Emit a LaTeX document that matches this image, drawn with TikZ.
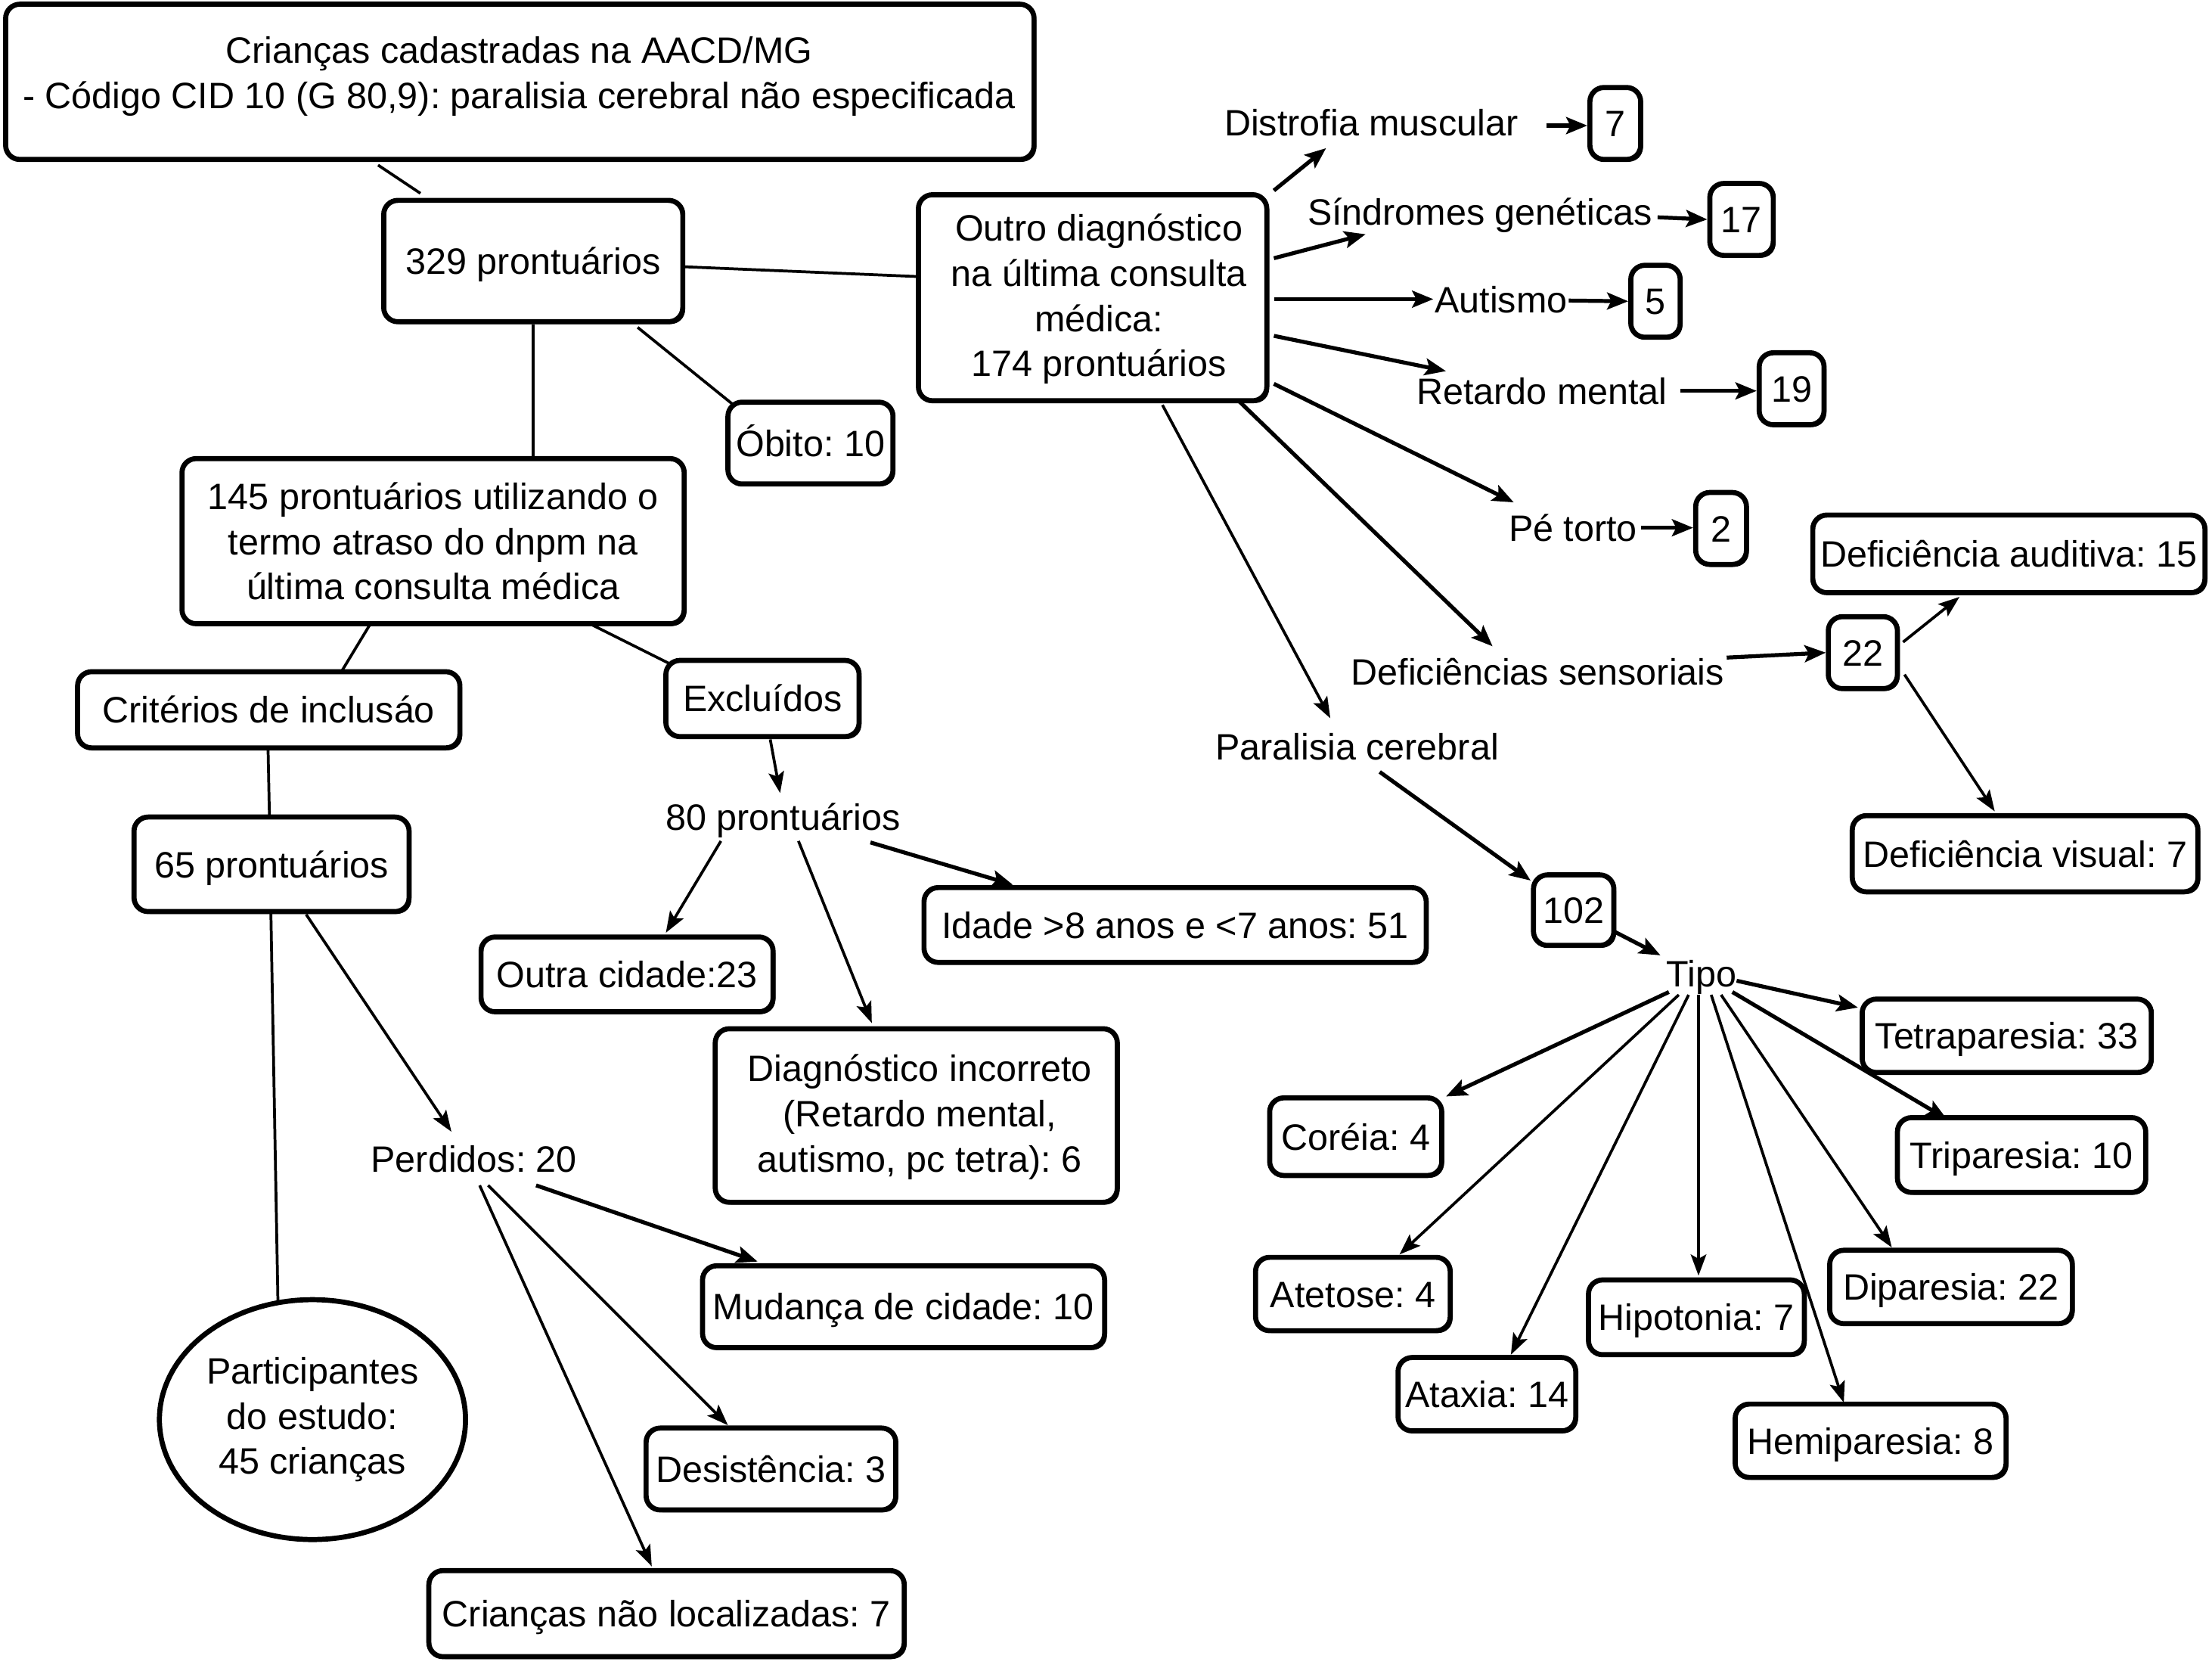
\documentclass[tikz,border=0pt]{standalone}
\usepackage{fontspec}
\setmainfont{Liberation Sans}
\usetikzlibrary{arrows.meta,calc,shadows,shapes.geometric}
\frenchspacing
\begin{document}
\begin{tikzpicture}[x=0.5pt,y=-0.5pt,
 every node/.style={font=\fontsize{13}{16}\selectfont, inner sep=0pt},
 bx/.style={draw, fill=white, rounded corners=5pt, line width=1.8pt, align=center,
   drop shadow={shadow xshift=0.8pt, shadow yshift=-0.8pt, opacity=1, fill=black}},
 sl/.style={text height=11pt, text depth=1.6pt},
 bxs/.style={bx, sl},
 lbl/.style={align=center, sl},
 ln/.style={line width=1pt},
 arr/.style={line width=1pt, -{Stealth[length=7.5pt,width=5.5pt,inset=1.5pt]}},
 tarr/.style={line width=1.4pt, -{Stealth[length=7.5pt,width=6pt,inset=1.5pt]}},
]
\useasboundingbox[fill=white] (0,0) rectangle (1568,1181.5);

% ---------- left part ----------
\node[bx, minimum width=364.5pt, minimum height=55pt] (top) at (368.5,58) {};
\node[align=center] (toptxt) at (368,54) {Crianças cadastradas na AACD/MG\\- Código CID 10 (G 80,9): paralisia cerebral não especificada};
\node[bxs, minimum width=106pt, minimum height=43pt] (n329) at (378,185) {329 prontuários};
\node[bx, minimum width=123.5pt, minimum height=73pt] (outro) at (774.5,211) {};
\node[align=center] (outrotxt) at (779,212) {Outro diagnóstico\\na última consulta\\médica:\\174 prontuários};
\node[bxs, minimum width=58.5pt, minimum height=29pt] (obito) at (574.5,314) {Óbito: 10};
\node[bx, minimum width=178pt, minimum height=58.5pt] (n145) at (307,383.5) {145 prontuários utilizando o\\termo atraso do dnpm na\\última consulta médica};
\node[bxs, minimum width=135.5pt, minimum height=27pt] (crit) at (190.5,503) {Critérios de inclusáo};
\node[bxs, minimum width=68.5pt, minimum height=27pt] (excl) at (540.5,495) {Excluídos};
\node[lbl] (n80) at (555,579) {80 prontuários};
\node[bxs, minimum width=97.5pt, minimum height=33.5pt] (n65) at (192.5,612.5) {65 prontuários};
\node[ellipse, draw, line width=1.8pt, minimum width=108.5pt, minimum height=85pt, align=center] (part) at (221.5,1006) {Participantes\\do estudo:\\45 crianças};
\node[bxs, minimum width=103.5pt, minimum height=26.5pt] (outra) at (444.5,690.5) {Outra cidade:23};
\node[bxs, minimum width=178pt, minimum height=26.5pt] (idade) at (833,655.5) {Idade >8 anos e <7 anos: 51};
\node[bx, minimum width=142.5pt, minimum height=61.5pt] (diag) at (649.5,790.5) {};
\node[align=center] (diagtxt) at (652,791.5) {Diagnóstico incorreto\\(Retardo mental,\\autismo, pc tetra): 6};
\node[lbl] (perd) at (336,821) {Perdidos: 20};
\node[bxs, minimum width=142.5pt, minimum height=29pt] (mud) at (640.5,926) {Mudança de cidade: 10};
\node[bxs, minimum width=88.5pt, minimum height=29pt] (desist) at (546.5,1041) {Desistência: 3};
\node[bxs, minimum width=168.5pt, minimum height=30.5pt] (naoloc) at (472.5,1143.5) {Crianças não localizadas: 7};

% ---------- right part ----------
\node[lbl] (distr) at (972,87) {Distrofia muscular};
\node[bxs, minimum width=18pt, minimum height=25.5pt] (b7) at (1145,87.5) {7};
\node[lbl] (sind) at (1049,150) {Síndromes genéticas};
\node[bxs, minimum width=22.5pt, minimum height=25.5pt] (b17) at (1234.5,155.5) {17};
\node[lbl] (aut) at (1064,212) {Autismo};
\node[bxs, minimum width=17.5pt, minimum height=25.5pt] (b5) at (1173.5,213.5) {5};
\node[lbl] (ret) at (1093,277) {Retardo mental};
\node[bxs, minimum width=23pt, minimum height=25.5pt] (b19) at (1270,275.5) {19};
\node[lbl] (pe) at (1115,374) {Pé torto};
\node[bxs, minimum width=18pt, minimum height=25.5pt] (b2) at (1220,374.5) {2};
\node[lbl] (defs) at (1090,476) {Deficiências sensoriais};
\node[bxs, minimum width=24.5pt, minimum height=25.5pt] (b22) at (1320.5,462.5) {22};
\node[lbl] (paral) at (962,529) {Paralisia cerebral};
\node[bxs, minimum width=139pt, minimum height=27.5pt] (defaud) at (1424,392.5) {Deficiência auditiva: 15};
\node[bxs, minimum width=122.5pt, minimum height=27pt] (defvis) at (1435.5,605) {Deficiência visual: 7};
\node[bxs, minimum width=28.5pt, minimum height=25pt] (b102) at (1115.5,645) {102};
\node[lbl] (tipo) at (1206,690) {Tipo};
\node[bxs, minimum width=102.5pt, minimum height=26pt] (tetra) at (1422.5,734) {Tetraparesia: 33};
\node[bxs, minimum width=88pt, minimum height=26.5pt] (tri) at (1433,818.5) {Triparesia: 10};
\node[bxs, minimum width=86pt, minimum height=26pt] (dip) at (1383,912) {Diparesia: 22};
\node[bxs, minimum width=96pt, minimum height=26pt] (hemi) at (1326,1021) {Hemiparesia: 8};
\node[bxs, minimum width=76.5pt, minimum height=26.5pt] (hipo) at (1202.5,933.5) {Hipotonia: 7};
\node[bxs, minimum width=63pt, minimum height=26pt] (atax) at (1054,988) {Ataxia: 14};
\node[bxs, minimum width=69pt, minimum height=26pt] (atet) at (959,917) {Atetose: 4};
\node[bxs, minimum width=61pt, minimum height=27.5pt] (cor) at (961,805.5) {Coréia: 4};

% ---------- plain lines ----------
\draw[ln] ($(top)+(-100.5,59)$) -- ($(n329)+(-80,-48)$);
\draw[ln] ($(n329)+(106,4)$) -- ($(outro)+(-123.5,-15)$);
\draw[ln] (n329.south) -- ($(n145)+(71,-58.5)$);
\draw[ln] ($(n329)+(74,47)$) -- ($(obito)+(-54.5,-27)$);
\draw[ln] ($(n145)+(-45,59.5)$) -- ($(crit)+(51.5,-27)$);
\draw[ln] ($(n145)+(113,59.5)$) -- ($(excl)+(-66.5,-25)$);
\draw[ln] ($(crit)+(-0.5,27)$) -- ($(n65)+(-1.5,-33.5)$);
\draw[ln] ($(n65)+(-0.5,33.5)$) -- ($(part)+(-24.5,-84)$);

% ---------- left arrows ----------
\draw[arr] ($(excl)+(5.5,29)$) -- ($(n80)+(-2,-17)$);
\draw[arr] ($(n65)+(24.5,35.5)$) -- ($(perd)+(-16,-19)$);
\draw[arr] ($(n80)+(-44,17)$) -- ($(outra)+(27.5,-29.5)$);
\draw[arr] ($(n80)+(11,17)$) -- ($(diag)+(-31.5,-65.5)$);
\draw[tarr] ($(n80)+(62,18)$) -- ($(idade)+(-115,-28.5)$);
\draw[tarr] ($(perd)+(44,19)$) -- ($(mud)+(-103.5,-32)$);
\draw[arr] ($(perd)+(10,19)$) -- ($(desist)+(-30.5,-31)$);
\draw[arr] ($(perd)+(4,19)$) -- ($(naoloc)+(-10.5,-33.5)$);

% ---------- right arrows ----------
\draw[tarr] ($(outro)+(128.5,-76)$) -- ($(distr)+(-32,18)$);
\draw[tarr] ($(distr)+(124,2)$) -- ($(b7.west)+(0,1.5)$);
\draw[tarr] ($(outro)+(128.5,-28)$) -- ($(sind)+(-81,16)$);
\draw[tarr] ($(sind)+(126,4)$) -- (b17.west);
\draw[tarr] ($(outro)+(128.5,1)$) -- ($(aut)+(-48,0)$);
\draw[tarr] ($(aut)+(48,1)$) -- (b5.west);
\draw[tarr] ($(outro)+(128.5,27)$) -- ($(ret)+(-68,-14)$);
\draw[tarr] ($(ret)+(98,0)$) -- (b19.west |- ret);
\draw[tarr] ($(outro)+(128.5,61)$) -- ($(pe)+(-42,-18)$);
\draw[tarr] ($(pe)+(48,0)$) -- (b2.west |- pe);
\draw[tarr] ($(outro)+(103.5,73)$) -- ($(defs)+(-32,-18)$);
\draw[tarr] ($(defs)+(134,-10)$) -- (b22.west);
\draw[arr] ($(outro)+(49.5,76)$) -- ($(paral)+(-19,-20)$);
\draw[arr] ($(b22)+(28.5,-7.5)$) -- ($(defaud)+(-35,30.5)$);
\draw[arr] ($(b22)+(29.5,15.5)$) -- ($(defvis)+(-21.5,-30)$);
\draw[tarr] ($(paral)+(16,18)$) -- ($(b102)+(-30.5,-21)$);
\draw[tarr] ($(b102)+(28.5,15)$) -- ($(tipo)+(-29,-13)$);

% ---------- Tipo arrows ----------
\draw[tarr] ($(tipo)+(25,5)$) -- ($(tetra)+(-105.5,-20)$);
\draw[tarr] ($(tipo)+(22,13)$) -- ($(tri)+(-53,-25.5)$);
\draw[arr] ($(tipo)+(14,15)$) -- ($(dip)+(-42,-28)$);
\draw[arr] ($(tipo)+(7,15)$) -- ($(hemi)+(-19,-27)$);
\draw[arr] ($(tipo)+(-2,15)$) -- ($(hipo)+(1.5,-29.5)$);
\draw[arr] ($(tipo)+(-9,15)$) -- ($(atax)+(17,-28)$);
\draw[arr] ($(tipo)+(-16,15)$) -- ($(atet)+(33,-28)$);
\draw[tarr] ($(tipo)+(-23,13)$) -- ($(cor)+(64,-28.5)$);
\end{tikzpicture}
\end{document}
